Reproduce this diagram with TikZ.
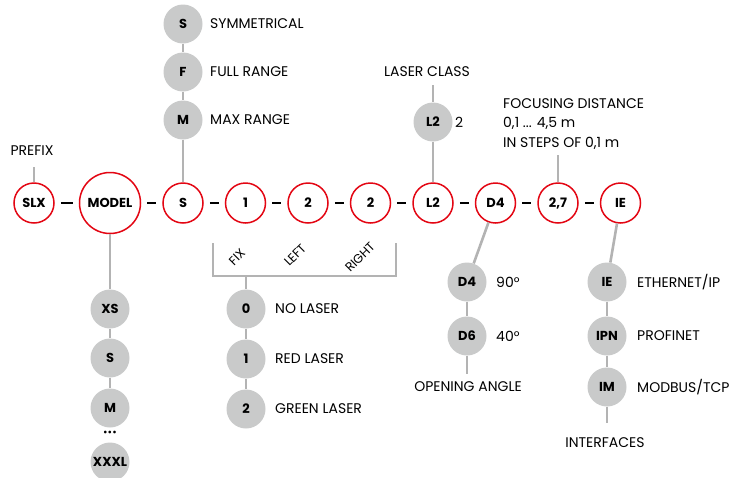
\documentclass[tikz,border=0pt]{standalone}
\usepackage{fontspec}
\setmainfont{Poppins}
\usetikzlibrary{positioning}
\definecolor{codered}{HTML}{E30613}
\definecolor{optgray}{HTML}{C9CACA}
\definecolor{stemgray}{HTML}{B3B3B3}

\begin{document}
\begin{tikzpicture}[
  x=1pt, y=-1pt,
  every node/.style={font=\fontsize{14}{19.5}\selectfont},
  code/.style={draw=codered, line width=1.5pt, circle, fill=white, minimum size=40pt, inner sep=0pt, font=\fontsize{13}{14}\selectfont\bfseries},
  opt/.style={fill=optgray, circle, minimum size=39pt, inner sep=0pt, font=\fontsize{13}{14}\selectfont\bfseries},
  link/.style={line width=2.6pt, shorten >=6pt, shorten <=6pt},
  stem/.style={draw=stemgray, line width=2.6pt},
  desc/.style={anchor=west, inner sep=0pt},
  poslbl/.style={rotate=45, inner sep=0pt, font=\fontsize{12.5}{14}\selectfont},
  node distance=21pt
]
  \useasboundingbox (0,0) rectangle (747,477);

  %--- code row
  \node[code]                                   (slx)   at (34,203) {SLX};
  \node[code, minimum size=61pt, right=24pt of slx] (model) {MODEL};
  \node[code, right=of model] (beam)  {S};
  \node[code, right=of beam]  (fix)   {1};
  \node[code, right=of fix]   (left)  {2};
  \node[code, right=of left]  (right) {2};
  \node[code, right=of right] (class) {L2};
  \node[code, right=of class] (angle) {D4};
  \node[code, right=of angle] (focus) {2,7};
  \node[code, right=of focus] (iface) {IE};

  \foreach \a/\b in {slx/model, model/beam, beam/fix, fix/left, left/right,
                     right/class, class/angle, angle/focus, focus/iface}
    \draw[link] (\a) -- (\b);

  %--- prefix
  \node (prefix) at (32,151) {PREFIX};
  \draw[stem] (slx) -- (slx |- 0,167);

  %--- beam type
  \node[opt] (sym)  at (beam |- 0,24)  {S};
  \node[opt] (full) at (beam |- 0,72)  {F};
  \node[opt] (max)  at (beam |- 0,120) {M};
  \node[desc] at (210,24)  {SYMMETRICAL};
  \node[desc] at (210,72)  {FULL RANGE};
  \node[desc] at (210,120) {MAX RANGE};
  \draw[stem] (sym) -- (full);
  \draw[stem] (full) -- (max);
  \draw[stem] (max) -- (beam);

  %--- model sizes
  \node[opt] (xs)   at (model |- 0,309) {XS};
  \node[opt] (s)    at (model |- 0,358) {S};
  \node[opt] (m)    at (model |- 0,408) {M};
  \node      (dots) at (model |- 0,433) {\bfseries\fontsize{9}{9}\selectfont •••};
  \node[opt] (xxxl) at (model |- 0,462) {XXXL};
  \draw[stem] (model) -- (xs);
  \draw[stem] (xs) -- (s);
  \draw[stem] (s) -- (m);

  %--- laser positions
  \coordinate (brkl) at (213,243);
  \coordinate (brkr) at (396,243);
  \coordinate (brkm) at (246,276);
  \draw[stem, line width=2.2pt] (brkl) |- (brkr |- brkm) -- (brkr);
  \node[poslbl] (fixlbl)   at (237,257) {FIX};
  \node[poslbl] (leftlbl)  at (295,255) {LEFT};
  \node[poslbl] (rightlbl) at (360,257) {RIGHT};

  \node[opt] (nolaser)    at (246,309) {0};
  \node[opt] (redlaser)   at (246,359) {1};
  \node[opt] (greenlaser) at (246,409) {2};
  \node[desc] at (275,309) {NO LASER};
  \node[desc] at (275,359) {RED LASER};
  \node[desc] at (275,409) {GREEN LASER};
  \draw[stem] (brkm) -- (nolaser);
  \draw[stem] (nolaser) -- (redlaser);
  \draw[stem] (redlaser) -- (greenlaser);

  %--- laser class
  \node (classlbl) at (427,72) {LASER CLASS};
  \node[opt] (l2) at (class |- 0,122) {L2};
  \node[desc] at (455,122) {2};
  \draw[stem] (class |- 0,85) -- (l2);
  \draw[stem] (l2) -- (class);

  %--- focusing distance
  \node[desc, align=left] (focuslbl) at (503,124) {FOCUSING DISTANCE\\0,1 ... 4,5 m\\IN STEPS OF 0,1 m};
  \draw[stem] (focus) -- (focus |- 0,155);

  %--- opening angle
  \node[opt] (d4) at (467,282) {D4};
  \node[opt] (d6) at (467,336) {D6};
  \node[desc] at (496,282) {90°};
  \node[desc] at (496,336) {40°};
  \node (anglelbl) at (468,387) {OPENING ANGLE};
  \draw[stem] (angle) -- (d4);
  \draw[stem] (d4) -- (d6);
  \draw[stem] (d6) -- (467,374);

  %--- interfaces
  \node[opt] (ie)  at (607,282) {IE};
  \node[opt] (ipn) at (607,336) {IPN};
  \node[opt] (im)  at (607,387) {IM};
  \node[desc] at (637,282) {ETHERNET/IP};
  \node[desc] at (637,336) {PROFINET};
  \node[desc] at (637,387) {MODBUS/TCP};
  \node (ifacelbl) at (605,443) {INTERFACES};
  \draw[stem] (iface) -- (ie);
  \draw[stem] (ie) -- (ipn);
  \draw[stem] (ipn) -- (im);
  \draw[stem] (im) -- (607,423);

\end{tikzpicture}
\end{document}
